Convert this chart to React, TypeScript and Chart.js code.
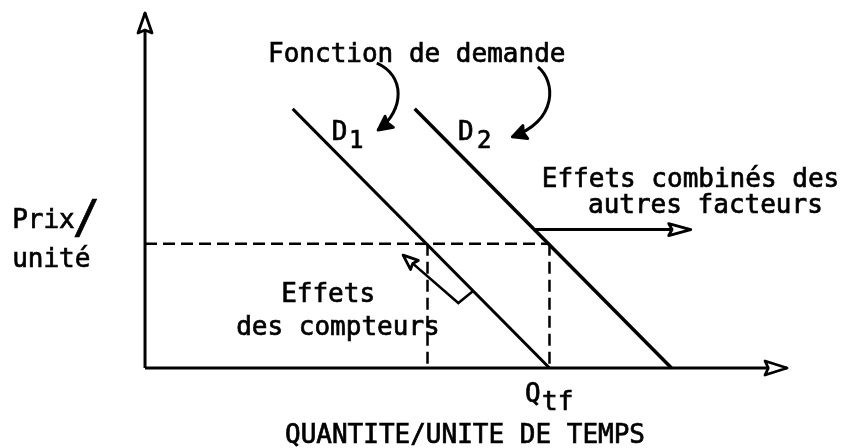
import React, { useEffect, useRef } from 'react';
import { Chart, registerables } from 'chart.js';

Chart.register(...registerables);

// ---- Data (economic units: quantity and price on a 0–100 scale) ----
const AXIS_MAX_Q = 100;
const AXIS_MAX_P = 100;
const DEMAND_D1 = [ { x: 23, y: 73 }, { x: 63, y: 0 } ];
const DEMAND_D2 = [ { x: 42, y: 73 }, { x: 82, y: 0 } ];
const PRICE = 35;
const Q_COUNTERS = 44;
const Q_TF = 63;
const SHIFT_ARROW = [ { x: 60.5, y: 39 }, { x: 85, y: 39 } ];
const COUNTER_ARROW = [ { x: 51.1, y: 21.7 }, { x: 48.8, y: 18.3 }, { x: 40.2, y: 31.8 } ];
const CURVE_TO_D1 = [ { x: 36.1, y: 85.9 }, { x: 40.5, y: 82.5 }, { x: 40.5, y: 72.7 }, { x: 36.3, y: 67.0 } ];
const CURVE_TO_D2 = [ { x: 61.2, y: 84.8 }, { x: 64.0, y: 80.6 }, { x: 64.3, y: 69.9 }, { x: 57.2, y: 65.1 } ];

// ---- Texts ----
const TEXTS = [
  'Fonction de demande',
  'D', '1',
  'D', '2',
  'Effets combinés des',
  'autres facteurs',
  'Prix', '/',
  'unité',
  'Effets',
  'des compteurs',
  'Q', 'tf',
  'QUANTITE/UNITE DE TEMPS',
];

// ---- Layout (text anchors in axis units, font sizes in px) ----
const TEXT_LAYOUT = [
  { x: 19.16, y: 86.2, size: 26 },
  { x: 29.1, y: 64.2, size: 26 },
  { x: 31.78, y: 61.97, size: 24 },
  { x: 48.75, y: 64.2, size: 26 },
  { x: 51.7, y: 61.97, size: 24 },
  { x: 61.8, y: 51.0, size: 26 },
  { x: 69.0, y: 43.7, size: 26 },
  { x: -20.7, y: 39.4, size: 26 },
  { x: -11.3, y: 38.0, size: 46 },
  { x: -20.7, y: 28.5, size: 26 },
  { x: 21.2, y: 18.6, size: 26 },
  { x: 14.2, y: 9.3, size: 26 },
  { x: 59.2, y: -9.58, size: 26 },
  { x: 61.84, y: -11.83, size: 26 },
  { x: 21.8, y: -21.13, size: 26 },
];

const VIEW = { xMin: -22.59, xMax: 109.03, yMin: -22.54, yMax: 103.66 };
const FONT = '"DejaVu Sans Mono", monospace';

function arrowHead(ctx: CanvasRenderingContext2D, tx: number, ty: number, fx: number, fy: number, len: number, half: number, filled: boolean) {
  const ang = Math.atan2(ty - fy, tx - fx);
  const bx = tx - len * Math.cos(ang);
  const by = ty - len * Math.sin(ang);
  const nx = -Math.sin(ang);
  const ny = Math.cos(ang);
  ctx.save();
  ctx.beginPath();
  ctx.moveTo(tx, ty);
  ctx.lineTo(bx + nx * half, by + ny * half);
  ctx.lineTo(bx + (tx - bx) * 0.15, by + (ty - by) * 0.15);
  ctx.lineTo(bx - nx * half, by - ny * half);
  ctx.closePath();
  ctx.fillStyle = filled ? '#000' : '#fff';
  ctx.strokeStyle = '#000';
  ctx.lineWidth = 2.8;
  ctx.lineJoin = 'round';
  ctx.fill();
  ctx.stroke();
  ctx.restore();
}

const decorPlugin = {
  id: 'decor',
  afterDatasetsDraw(chart: any) {
    const ctx: CanvasRenderingContext2D = chart.ctx;
    const xs = chart.scales.x;
    const ys = chart.scales.y;
    const X = (v: number) => xs.getPixelForValue(v);
    const Y = (v: number) => ys.getPixelForValue(v);

    // axis heads
    arrowHead(ctx, X(0), Y(AXIS_MAX_P), X(0), Y(0), 20, 7, false);
    arrowHead(ctx, X(AXIS_MAX_Q), Y(0), X(0), Y(0), 22, 7, false);
    // shift arrow head
    const s0 = SHIFT_ARROW[0], s1 = SHIFT_ARROW[1];
    arrowHead(ctx, X(s1.x), Y(s1.y), X(s0.x), Y(s0.y), 22, 6, false);
    // counters arrow head
    const c1 = COUNTER_ARROW[1], c2 = COUNTER_ARROW[2];
    arrowHead(ctx, X(c2.x), Y(c2.y), X(c1.x), Y(c1.y), 15, 6, false);

    // curved arrows
    [CURVE_TO_D1, CURVE_TO_D2].forEach((c) => {
      ctx.save();
      ctx.beginPath();
      ctx.moveTo(X(c[0].x), Y(c[0].y));
      ctx.bezierCurveTo(X(c[1].x), Y(c[1].y), X(c[2].x), Y(c[2].y), X(c[3].x), Y(c[3].y));
      ctx.strokeStyle = '#000';
      ctx.lineWidth = 3;
      ctx.stroke();
      ctx.restore();
      arrowHead(ctx, X(c[3].x), Y(c[3].y), X(c[2].x), Y(c[2].y), 14, 7, true);
    });

    // texts
    ctx.save();
    ctx.fillStyle = '#000';
    ctx.strokeStyle = '#000';
    ctx.lineWidth = 0.7;
    ctx.textAlign = 'left';
    ctx.textBaseline = 'alphabetic';
    TEXTS.forEach((t, i) => {
      const p = TEXT_LAYOUT[i];
      ctx.font = `${p.size}px ${FONT}`;
      ctx.fillText(t, X(p.x), Y(p.y));
      ctx.strokeText(t, X(p.x), Y(p.y));
    });
    ctx.restore();
  },
};

export default function App() {
  const ref = useRef<HTMLCanvasElement | null>(null);
  useEffect(() => {
    document.body.style.margin = '0';
    const canvas = ref.current;
    if (!canvas) return;
    const solid = { showLine: true, pointRadius: 0, borderColor: '#000', borderWidth: 3, fill: false, clip: false as any };
    const dashed = { ...solid, borderWidth: 2.5, borderDash: [12, 6] };
    const chart = new Chart(canvas, {
      type: 'scatter',
      data: {
        datasets: [
          { ...solid, label: 'Axe prix', data: [ { x: 0, y: 0 }, { x: 0, y: AXIS_MAX_P } ] },
          { ...solid, label: 'Axe quantité', data: [ { x: 0, y: 0 }, { x: AXIS_MAX_Q, y: 0 } ] },
          { ...dashed, label: 'Prix', data: [ { x: 0, y: PRICE }, { x: Q_TF, y: PRICE } ] },
          { ...dashed, label: 'Q compteurs', data: [ { x: Q_COUNTERS, y: PRICE }, { x: Q_COUNTERS, y: 0 } ] },
          { ...dashed, label: 'Qtf', data: [ { x: Q_TF, y: PRICE }, { x: Q_TF, y: 0 } ] },
          { ...solid, label: 'D1', data: DEMAND_D1 },
          { ...solid, label: 'D2', borderWidth: 3.5, data: DEMAND_D2 },
          { ...solid, label: 'Effets combinés', data: SHIFT_ARROW },
          { ...solid, label: 'Effets des compteurs', borderWidth: 2.5, data: COUNTER_ARROW },
        ] as any,
      },
      options: {
        animation: false,
        responsive: false,
        maintainAspectRatio: false,
        events: [],
        layout: { padding: 0 },
        plugins: { legend: { display: false }, tooltip: { enabled: false } },
        scales: {
          x: { type: 'linear', min: VIEW.xMin, max: VIEW.xMax, display: false },
          y: { type: 'linear', min: VIEW.yMin, max: VIEW.yMax, display: false },
        },
      },
      plugins: [decorPlugin],
    });
    return () => chart.destroy();
  }, []);
  return (
    <div style={{ width: 845, height: 448, background: '#fff' }}>
      <canvas ref={ref} width={845} height={448} style={{ display: 'block', width: 845, height: 448 }} />
    </div>
  );
}
